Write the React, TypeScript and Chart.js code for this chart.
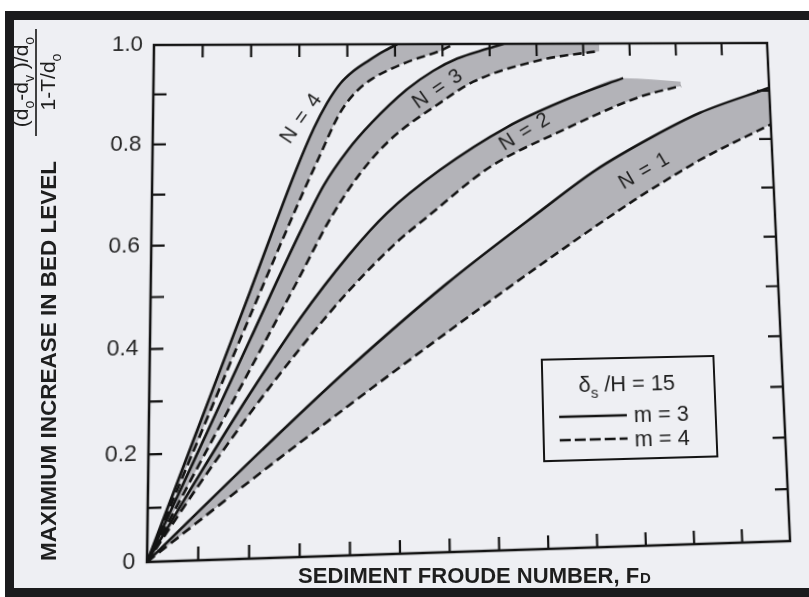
import React, { useEffect, useRef } from "react";
import { Chart, registerables } from "chart.js";

Chart.register(...registerables);

// Sediment Froude number (x, one unit per tick) and relative bed rise (y)
// m = 3 curves are solid, m = 4 curves are dashed
const FD_N1_M3 = [0, 2.25, 4, 6, 8, 9.2, 10.4, 11.47, 13];
const RISE_N1_M3 = [0, 0.203, 0.355, 0.515, 0.658, 0.74, 0.805, 0.855, 0.906];
const FD_N1_M4 = [0, 2, 4, 6, 8, 10, 11.06, 11.43, 13];
const RISE_N1_M4 = [0, 0.144, 0.284, 0.42, 0.552, 0.678, 0.738, 0.758, 0.83];

const FD_N2_M3 = [0, 1, 2, 3, 4, 4.8, 5.91, 7.34, 8.75, 9.84];
const RISE_N2_M3 = [0, 0.158, 0.31, 0.452, 0.575, 0.658, 0.743, 0.829, 0.89, 0.928];
const FD_N2_M4 = [0, 1, 2, 3, 4, 5, 5.63, 6.96, 8.39, 10.19, 11.08];
const RISE_N2_M4 = [0, 0.14, 0.272, 0.394, 0.505, 0.6, 0.649, 0.748, 0.816, 0.889, 0.911];

const FD_N3_M3 = [0, 1, 2, 3, 3.5, 4, 4.5, 5.24, 5.8, 6.31, 6.95, 7.3];
const RISE_N3_M3 = [0, 0.207, 0.414, 0.62, 0.715, 0.785, 0.84, 0.907, 0.945, 0.97, 0.99, 1.0];
const FD_N3_M4 = [0, 1, 2, 3, 3.63, 4.23, 4.88, 5.93, 6.64, 8.07, 9.15, 9.35];
const RISE_N3_M4 = [0, 0.178, 0.356, 0.534, 0.648, 0.735, 0.805, 0.879, 0.922, 0.966, 0.982, 0.984];

const FD_N4_M3 = [0, 1, 2, 2.93, 3.3, 3.57, 3.85, 4.12, 4.45, 4.75, 5.05];
const RISE_N4_M3 = [0, 0.254, 0.508, 0.746, 0.83, 0.88, 0.92, 0.945, 0.967, 0.985, 1.0];
const FD_N4_M4 = [0, 1, 2, 3, 3.4, 3.84, 4.2, 4.53, 5.25, 5.95, 6.25];
const RISE_N4_M4 = [0, 0.23, 0.46, 0.685, 0.77, 0.86, 0.905, 0.93, 0.963, 0.986, 1.0];

// upper edge of each shaded band where it closes off at the right (N = 1..4)
const BAND_CAP_FD = [null, 11.08, 9.35, 6.25];
const BAND_CAP_RISE = [null, 0.92, 1.0, 1.0];

// curve captions
const N_LABELS = ["N = 1", "N = 2", "N = 3", "N = 4"];
const N_LABEL_FD = [10.24, 7.72, 5.9, 3.05];
const N_LABEL_RISE = [0.737, 0.819, 0.908, 0.85];
const N_LABEL_ANGLE = [-29, -31, -34, -55];

const X_MAX = 13;
const Y_STEP = 0.1;

const W = 809;
const H = 597;
const INK = "#141414";
const BAND = "#b3b3b8";
const PAPER = "#eeeff3";
const SANS = '"Liberation Sans", Arial, Helvetica, sans-serif';

// plot rectangle on the chart canvas, and where the photographed page puts its corners
const AREA = { left: 150, top: 44, right: 779, bottom: 553 };
const PAGE_CORNERS = [
  [154, 45],
  [767, 43],
  [790, 541],
  [147, 562],
];

type Run = { t: string; sub?: boolean };

function runFont(size: number, weight: string, sub?: boolean) {
  return `${weight} ${sub ? Math.round(size * 0.68) : size}px ${SANS}`;
}

function runsWidth(ctx: CanvasRenderingContext2D, runs: Run[], size: number, weight: string) {
  let w = 0;
  for (const r of runs) {
    ctx.font = runFont(size, weight, r.sub);
    w += ctx.measureText(r.t).width;
  }
  return w;
}

function drawRuns(
  ctx: CanvasRenderingContext2D,
  runs: Run[],
  x: number,
  baseline: number,
  size: number,
  weight: string
) {
  let cx = x;
  ctx.textAlign = "left";
  ctx.textBaseline = "alphabetic";
  for (const r of runs) {
    ctx.font = runFont(size, weight, r.sub);
    ctx.fillText(r.t, cx, baseline + (r.sub ? size * 0.27 : 0));
    cx += ctx.measureText(r.t).width;
  }
}

// projective map taking the plot rectangle onto the page's (slightly keystoned) frame
function pageTransform() {
  const src = [
    [AREA.left, AREA.top],
    [AREA.right, AREA.top],
    [AREA.right, AREA.bottom],
    [AREA.left, AREA.bottom],
  ];
  const A: number[][] = [];
  const B: number[] = [];
  for (let i = 0; i < 4; i++) {
    const [x, y] = src[i];
    const [X, Y] = PAGE_CORNERS[i];
    A.push([x, 0, y, 0, 1, 0, -x * X, -y * X]);
    B.push(X);
    A.push([0, x, 0, y, 0, 1, -x * Y, -y * Y]);
    B.push(Y);
  }
  const n = 8;
  for (let col = 0; col < n; col++) {
    let piv = col;
    for (let r = col + 1; r < n; r++) if (Math.abs(A[r][col]) > Math.abs(A[piv][col])) piv = r;
    [A[col], A[piv]] = [A[piv], A[col]];
    [B[col], B[piv]] = [B[piv], B[col]];
    for (let r = 0; r < n; r++) {
      if (r === col) continue;
      const f = A[r][col] / A[col][col];
      for (let k = col; k < n; k++) A[r][k] -= f * A[col][k];
      B[r] -= f * B[col];
    }
  }
  const [a, b, c, d, e, f, g, h] = B.map((v, i) => v / A[i][i]);
  return `matrix3d(${a},${b},0,${g},${c},${d},0,${h},0,0,1,0,${e},${f},0,1)`;
}

const pts = (xs: number[], ys: number[]) => xs.map((x, i) => ({ x, y: ys[i] }));

// frame, ticks, curve captions and key, drawn on the chart canvas
const decor = {
  id: "decor",
  afterDraw(chart: any) {
    const { ctx, chartArea } = chart;
    const { left, right, top, bottom } = chartArea;
    const xs = chart.scales.x;
    const ys = chart.scales.y;
    ctx.save();

    ctx.strokeStyle = INK;
    ctx.lineWidth = 2.5;
    ctx.strokeRect(left, top, right - left, bottom - top);

    // inward ticks on all four sides
    const tick = 13;
    ctx.lineWidth = 2.2;
    ctx.beginPath();
    for (const t of xs.ticks) {
      if (t.value <= 0 || t.value >= X_MAX) continue;
      const px = xs.getPixelForValue(t.value);
      ctx.moveTo(px, bottom);
      ctx.lineTo(px, bottom - tick);
      ctx.moveTo(px, top);
      ctx.lineTo(px, top + tick);
    }
    for (const t of ys.ticks) {
      if (t.value <= 0.001 || t.value >= 0.999) continue;
      const py = ys.getPixelForValue(t.value);
      ctx.moveTo(left, py);
      ctx.lineTo(left + tick, py);
      ctx.moveTo(right, py);
      ctx.lineTo(right - tick, py);
    }
    ctx.stroke();

    ctx.fillStyle = "#1e1e1e";
    for (let i = 0; i < N_LABELS.length; i++) {
      const px = xs.getPixelForValue(N_LABEL_FD[i]);
      const py = ys.getPixelForValue(N_LABEL_RISE[i]);
      ctx.save();
      ctx.translate(px, py);
      ctx.rotate((N_LABEL_ANGLE[i] * Math.PI) / 180);
      ctx.font = `21px ${SANS}`;
      (ctx as any).letterSpacing = "1.5px";
      ctx.textAlign = "center";
      ctx.textBaseline = "middle";
      ctx.fillText(N_LABELS[i], 0, 0);
      ctx.restore();
    }

    // key
    const bx = left + 385;
    const by = top + 324;
    const bw = 174;
    const bh = 100;
    ctx.fillStyle = PAPER;
    ctx.fillRect(bx, by, bw, bh);
    ctx.lineWidth = 2;
    ctx.strokeStyle = INK;
    ctx.strokeRect(bx, by, bw, bh);
    ctx.fillStyle = "#1e1e1e";
    const head: Run[] = [{ t: "\u03b4" }, { t: "s", sub: true }, { t: " /H = 15" }];
    const wh = runsWidth(ctx, head, 22, "normal");
    drawRuns(ctx, head, bx + 85 - wh / 2, by + 33, 22, "normal");

    ctx.lineWidth = 2.6;
    ctx.beginPath();
    ctx.moveTo(bx + 16, by + 57);
    ctx.lineTo(bx + 84, by + 57);
    ctx.stroke();
    ctx.setLineDash([11, 4]);
    ctx.beginPath();
    ctx.moveTo(bx + 16, by + 80);
    ctx.lineTo(bx + 84, by + 80);
    ctx.stroke();
    ctx.setLineDash([]);
    ctx.font = `22px ${SANS}`;
    ctx.textAlign = "left";
    ctx.textBaseline = "alphabetic";
    ctx.fillText("m = 3", bx + 91, by + 64);
    ctx.fillText("m = 4", bx + 91, by + 88);

    ctx.restore();
  },
};

// page border and axis titles
function drawPage(canvas: HTMLCanvasElement) {
  const ctx = canvas.getContext("2d");
  if (!ctx) return;
  ctx.fillStyle = "#ffffff";
  ctx.fillRect(0, 0, W, H);
  ctx.fillStyle = "#1b1b1d";
  ctx.fillRect(5, 11, W - 5, H - 11);
  ctx.fillStyle = PAPER;
  ctx.fillRect(14, 20, W - 14, 568);

  ctx.fillStyle = "#1e1e1e";
  ctx.textAlign = "left";
  ctx.textBaseline = "alphabetic";
  ctx.font = `bold 22px ${SANS}`;
  const main = "SEDIMENT FROUDE NUMBER, F";
  const wMain = ctx.measureText(main).width;
  ctx.font = `bold 15px ${SANS}`;
  const wSub = ctx.measureText("D").width;
  const x0 = 474 - (wMain + wSub) / 2;
  ctx.font = `bold 22px ${SANS}`;
  ctx.fillText(main, x0, 583);
  ctx.font = `bold 15px ${SANS}`;
  ctx.fillText("D", x0 + wMain + 1, 583);

  ctx.save();
  ctx.translate(56, 361);
  ctx.rotate(-Math.PI / 2);
  ctx.font = `bold 22.5px ${SANS}`;
  ctx.textAlign = "center";
  ctx.fillText("MAXIMIUM INCREASE IN BED LEVEL", 0, 0);
  ctx.restore();

  const num: Run[] = [
    { t: "(d" },
    { t: "o", sub: true },
    { t: "-d" },
    { t: "v", sub: true },
    { t: " )/d" },
    { t: "o", sub: true },
  ];
  const den: Run[] = [{ t: "1-T/d" }, { t: "o", sub: true }];
  ctx.save();
  ctx.translate(0, 82);
  ctx.rotate(-Math.PI / 2);
  const fs = 21;
  const wn = runsWidth(ctx, num, fs, "normal");
  drawRuns(ctx, num, -wn / 2, 28, fs, "normal");
  const wd = runsWidth(ctx, den, fs, "normal");
  drawRuns(ctx, den, -wd / 2, 55, fs, "normal");
  ctx.restore();
  ctx.strokeStyle = INK;
  ctx.lineWidth = 1.6;
  ctx.beginPath();
  ctx.moveTo(36, 29);
  ctx.lineTo(36, 136);
  ctx.stroke();
}

export default function App() {
  const pageRef = useRef<HTMLCanvasElement>(null);
  const ref = useRef<HTMLCanvasElement>(null);

  useEffect(() => {
    const canvas = ref.current;
    if (!canvas) return;
    if (pageRef.current) drawPage(pageRef.current);

    const solid = [
      pts(FD_N1_M3, RISE_N1_M3),
      pts(FD_N2_M3, RISE_N2_M3),
      pts(FD_N3_M3, RISE_N3_M3),
      pts(FD_N4_M3, RISE_N4_M3),
    ];
    const dashed = [
      pts(FD_N1_M4, RISE_N1_M4),
      pts(FD_N2_M4, RISE_N2_M4),
      pts(FD_N3_M4, RISE_N3_M4),
      pts(FD_N4_M4, RISE_N4_M4),
    ];
    const bands = solid.map((s, i) => {
      const capX = BAND_CAP_FD[i];
      const capY = BAND_CAP_RISE[i];
      return capX == null || capY == null ? s : [...s, { x: capX, y: capY }];
    });

    const datasets: any[] = [];
    bands.forEach((b, i) => {
      datasets.push({
        label: `band N=${i + 1}`,
        data: b,
        fill: 4 + i,
        backgroundColor: BAND,
        borderColor: "rgba(0,0,0,0)",
        borderWidth: 0,
        pointRadius: 0,
        cubicInterpolationMode: "monotone",
      });
    });
    dashed.forEach((d, i) => {
      datasets.push({
        label: `N=${i + 1}, m=4`,
        data: d,
        fill: false,
        borderColor: INK,
        borderWidth: 2.6,
        borderDash: [9, 5],
        pointRadius: 0,
        cubicInterpolationMode: "monotone",
      });
    });
    solid.forEach((s, i) => {
      datasets.push({
        label: `N=${i + 1}, m=3`,
        data: s,
        fill: false,
        borderColor: INK,
        borderWidth: 2.6,
        pointRadius: 0,
        cubicInterpolationMode: "monotone",
      });
    });

    const chart = new Chart(canvas, {
      type: "line",
      data: { datasets },
      plugins: [decor],
      options: {
        responsive: false,
        animation: false,
        events: [],
        layout: {
          padding: { left: 0, top: AREA.top, right: W - AREA.right, bottom: 0 },
        },
        plugins: {
          legend: { display: false },
          tooltip: { enabled: false },
          filler: { drawTime: "beforeDatasetsDraw" },
        } as any,
        scales: {
          x: {
            type: "linear",
            min: 0,
            max: X_MAX,
            ticks: { display: false, stepSize: 1 },
            grid: { display: false, drawTicks: false },
            border: { display: false },
            afterFit: (s: any) => {
              s.height = H - AREA.bottom;
            },
          },
          y: {
            type: "linear",
            min: 0,
            max: 1,
            ticks: {
              stepSize: Y_STEP,
              autoSkip: false,
              padding: 11,
              color: "#262626",
              font: { family: SANS, size: 22 },
              callback: (v: any) => {
                const n = Math.round(Number(v) * 10);
                if (n % 2 !== 0) return "";
                return n === 0 ? "0" : (n / 10).toFixed(1);
              },
            },
            grid: { display: false, drawTicks: false },
            border: { display: false },
            afterFit: (s: any) => {
              s.width = AREA.left;
            },
          },
        },
      } as any,
    });

    return () => chart.destroy();
  }, []);

  return (
    <div style={{ position: "fixed", left: 0, top: 0, width: W, height: H, overflow: "hidden" }}>
      <canvas
        ref={pageRef}
        width={W}
        height={H}
        style={{ position: "absolute", left: 0, top: 0, width: W, height: H }}
      />
      <canvas
        ref={ref}
        width={W}
        height={H}
        style={{
          position: "absolute",
          left: 0,
          top: 0,
          width: W,
          height: H,
          transformOrigin: "0 0",
          transform: pageTransform(),
        }}
      />
    </div>
  );
}
